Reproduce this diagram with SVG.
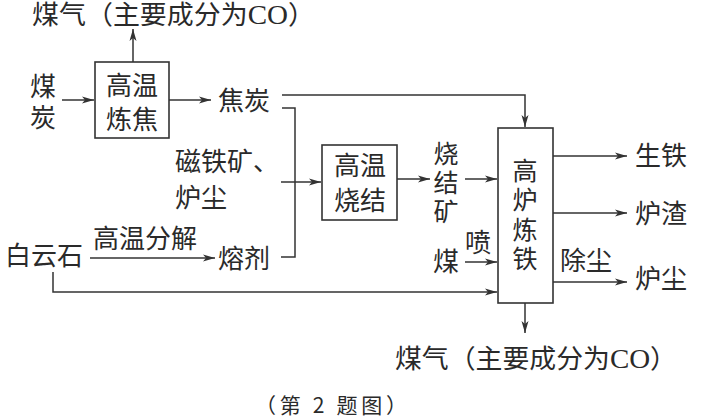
<svg xmlns="http://www.w3.org/2000/svg" width="703" height="419" viewBox="0 0 703 419">
<defs>
<marker id="ah" markerUnits="userSpaceOnUse" markerWidth="14" markerHeight="10" refX="12" refY="5" orient="auto">
<path d="M0,1.5 L12,5 L0,8.5 L3,5 Z" fill="#333"/>
</marker>
<style>
text{font-family:"Noto Sans CJK SC","Noto Sans",sans-serif;font-size:26px;fill:#2a2a2a;}
.m{text-anchor:middle;}
.v{font-size:25px;}
.lat{font-family:"Liberation Serif","Noto Sans CJK SC",serif;font-size:28px;}
.box{fill:#fff;stroke:#333;stroke-width:1.6;}
.c path{fill:none;stroke:#333;stroke-width:1.5;}
.cap{font-size:21px;}
</style>
</defs>
<rect width="703" height="419" fill="#fff"/>
<g class="c" id="connectors">
<path d="M133,62 V29" marker-end="url(#ah)"/>
<path d="M62,100 H94" marker-end="url(#ah)"/>
<path d="M169,100 H211" marker-end="url(#ah)"/>
<path d="M282,95 H525 V127" marker-end="url(#ah)"/>
<path d="M282,108 H295 V257 H281"/>
<path d="M281,182 H321" marker-end="url(#ah)"/>
<path d="M397,179 H430" marker-end="url(#ah)"/>
<path d="M465,179 H497" marker-end="url(#ah)"/>
<path d="M465,262 H497" marker-end="url(#ah)"/>
<path d="M90,258 H215" marker-end="url(#ah)"/>
<path d="M53,272 V292 H497" marker-end="url(#ah)"/>
<path d="M553,156 H627" marker-end="url(#ah)"/>
<path d="M553,213 H627" marker-end="url(#ah)"/>
<path d="M553,282 H627" marker-end="url(#ah)"/>
<path d="M525,303 V333" marker-end="url(#ah)"/>
</g>
<g id="gas-top"><text x="32" y="24" textLength="283" lengthAdjust="spacingAndGlyphs">煤气（主要成分为<tspan class="lat">CO</tspan>）</text></g>
<g id="coal"><text class="m"><tspan x="43" y="96">煤</tspan><tspan x="43" y="127">炭</tspan></text></g>
<g id="coking"><rect class="box" x="95" y="62" width="74" height="76"/><text class="m"><tspan x="132" y="95">高温</tspan><tspan x="132" y="129">炼焦</tspan></text></g>
<g id="coke"><text x="218" y="110">焦炭</text></g>
<g id="magnetite"><text><tspan x="175" y="171">磁铁矿、</tspan><tspan x="175" y="207">炉尘</tspan></text></g>
<g id="sintering"><rect class="box" x="322" y="145" width="75" height="75"/><text class="m"><tspan x="360" y="175">高温</tspan><tspan x="360" y="210">烧结</tspan></text></g>
<g id="sinter"><text class="m v"><tspan x="446" y="163">烧</tspan><tspan x="446" y="192">结</tspan><tspan x="446" y="221">矿</tspan></text></g>
<g id="coal-inject"><text x="446" y="271" class="m">煤</text><text x="478" y="252" class="m">喷</text></g>
<g id="dolomite"><text x="5" y="265">白云石</text></g>
<g id="decompose"><text x="93" y="248">高温分解</text></g>
<g id="flux"><text x="218" y="268">熔剂</text></g>
<g id="furnace"><rect class="box" x="498" y="128" width="55" height="175"/><text class="m v"><tspan x="525" y="180">高</tspan><tspan x="525" y="209">炉</tspan><tspan x="525" y="239">炼</tspan><tspan x="525" y="268">铁</tspan></text></g>
<g id="pig-iron"><text x="635" y="165">生铁</text></g>
<g id="slag"><text x="635" y="223">炉渣</text></g>
<g id="dust-removal"><text x="560" y="270">除尘</text></g>
<g id="dust"><text x="635" y="288">炉尘</text></g>
<g id="gas-bottom"><text x="395" y="368" textLength="282" lengthAdjust="spacingAndGlyphs">煤气（主要成分为<tspan class="lat">CO</tspan>）</text></g>
<g id="caption"><text x="255" y="413" class="cap" textLength="152" lengthAdjust="spacing">（第 2 题图）</text></g>
</svg>
